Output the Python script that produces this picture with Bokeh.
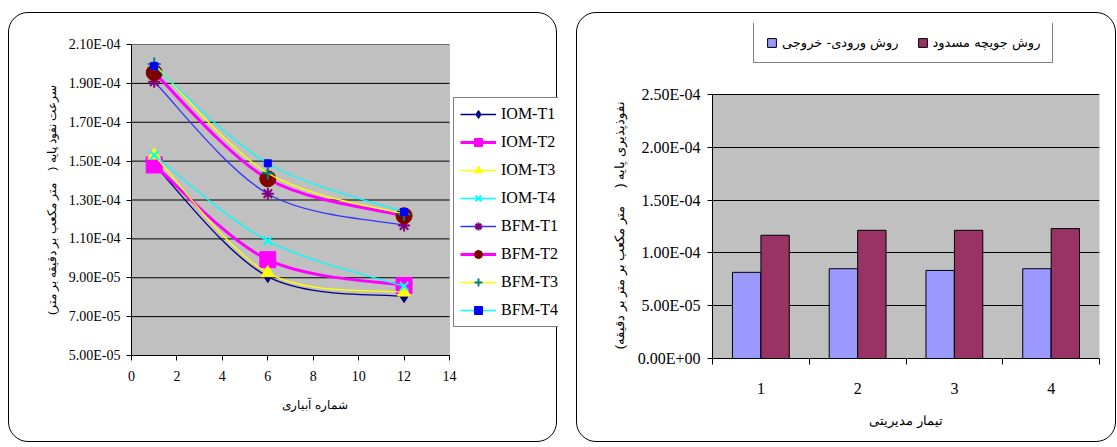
from bokeh.plotting import figure
from bokeh.layouts import row, column
from bokeh.models import (FixedTicker, CustomJSTickFormatter, Legend, LegendItem,
                          ColumnDataSource, BoxAnnotation, LinearAxis, Grid)
from bokeh.transform import dodge
from bokeh.embed import file_html
from bokeh.resources import INLINE

# ---------------- data: left chart ----------------
irrigation = [1, 6, 12]
iom_t1 = [1.480e-4, 9.06e-5, 8.03e-5]
iom_t2 = [1.480e-4, 9.93e-5, 8.60e-5]
iom_t3 = [1.530e-4, 9.25e-5, 8.25e-5]
iom_t4 = [1.530e-4, 1.090e-4, 8.56e-5]
bfm_t1 = [1.908e-4, 1.332e-4, 1.169e-4]
bfm_t2 = [1.955e-4, 1.409e-4, 1.219e-4]
bfm_t3 = [2.000e-4, 1.438e-4, 1.227e-4]
bfm_t4 = [1.990e-4, 1.489e-4, 1.238e-4]
left_x_ticks = [0, 2, 4, 6, 8, 10, 12, 14]
left_y_ticks = [5e-5, 7e-5, 9e-5, 1.1e-4, 1.3e-4, 1.5e-4, 1.7e-4, 1.9e-4, 2.1e-4]

# ---------------- data: right chart ----------------
treatments = [1, 2, 3, 4]
inlet_outlet = [8.16e-5, 8.50e-5, 8.34e-5, 8.50e-5]
blocked_furrow = [1.167e-4, 1.214e-4, 1.214e-4, 1.230e-4]
right_y_ticks = [0, 5e-5, 1e-4, 1.5e-4, 2e-4, 2.5e-4]

SERIF = "Liberation Serif"
ARABIC = "DejaVu Sans"
NB = "\u00a0"

fmt_code = """
const s = tick.toExponential(2);
const parts = s.split('e');
const e = parseInt(parts[1]);
const sign = e < 0 ? '-' : '+';
const d = Math.abs(e);
return parts[0] + 'E' + sign + (d < 10 ? '0' + d : '' + d);
"""

panel_css = {"border": "1.5px solid #000", "border-radius": "20px"}


def smooth(xs, ys):
    n = len(xs)
    out = dict(x0=[], y0=[], x1=[], y1=[], cx0=[], cy0=[], cx1=[], cy1=[])
    for i in range(n - 1):
        a = i - 1 if i > 0 else i
        b = i + 2 if i + 2 < n else i + 1
        out["x0"].append(xs[i]); out["y0"].append(ys[i])
        out["x1"].append(xs[i + 1]); out["y1"].append(ys[i + 1])
        out["cx0"].append(xs[i] + (xs[i + 1] - xs[a]) / 6.0)
        out["cy0"].append(ys[i] + (ys[i + 1] - ys[a]) / 6.0)
        out["cx1"].append(xs[i + 1] - (xs[b] - xs[i]) / 6.0)
        out["cy1"].append(ys[i + 1] - (ys[b] - ys[i]) / 6.0)
    return out


def make_axis(tick_font, tick_size, label_font, label_size, **kw):
    return LinearAxis(axis_line_color="black", major_tick_line_color="black",
                      major_tick_in=0, major_tick_out=5, minor_tick_line_color=None,
                      major_label_text_font=tick_font, major_label_text_font_size=tick_size,
                      major_label_text_font_style="normal", major_label_text_color="black",
                      major_label_text_line_height=1.0,
                      axis_label_text_font=label_font, axis_label_text_font_style="normal",
                      axis_label_text_font_size=label_size, axis_label_text_color="black",
                      axis_label_text_line_height=1.0,
                      **kw)


# ================= left figure =================
# plot area 318 px wide; the frame also holds the legend column (427 px in all)
x_end = left_x_ticks[-1] * 427.0 / 318.0
p1 = figure(width=549, height=430, x_range=(0, x_end),
            y_range=(left_y_ticks[0], left_y_ticks[-1]),
            x_axis_type=None, y_axis_type=None,
            output_backend="svg", toolbar_location=None, title=None,
            min_border_left=122, min_border_right=0, min_border_top=31, min_border_bottom=88,
            background_fill_color=None, border_fill_color=None,
            outline_line_color=None, styles=panel_css)

p1.add_layout(BoxAnnotation(left=left_x_ticks[0], right=left_x_ticks[-1],
                            bottom=left_y_ticks[0], top=left_y_ticks[-1],
                            fill_color="#C0C0C0", fill_alpha=1.0,
                            line_color="#808080", line_width=1, level="underlay"))
p1.segment(x0=[left_x_ticks[0]] * len(left_y_ticks), x1=[left_x_ticks[-1]] * len(left_y_ticks),
           y0=left_y_ticks, y1=left_y_ticks, line_color="black", line_width=1)

series = [
    ("IOM-T1", iom_t1, "#000080", 1.3, "diamond", "#000080", 12),
    ("IOM-T2", iom_t2, "#FF00FF", 3.0, "square", "#FF00FF", 16),
    ("IOM-T3", iom_t3, "#FFFF00", 1.3, "triangle", "#FFFF00", 13),
    ("IOM-T4", iom_t4, "#00FFFF", 1.3, "x", "#00FFFF", 12),
    ("BFM-T1", bfm_t1, "#3333FF", 1.3, "asterisk", "#800080", 12),
    ("BFM-T2", bfm_t2, "#FF00FF", 3.0, "circle", "#800000", 16),
    ("BFM-T3", bfm_t3, "#FFFF00", 1.3, "cross", "#008080", 13),
    ("BFM-T4", bfm_t4, "#00FFFF", 1.3, "square", "#0000FF", 7),
]

items = []
for label, ys, lc, lw, mk, mc, ms in series:
    seg = smooth(irrigation, ys)
    br = p1.bezier(x0="x0", y0="y0", x1="x1", y1="y1", cx0="cx0", cy0="cy0",
                   cx1="cx1", cy1="cy1", source=ColumnDataSource(seg),
                   line_color=lc, line_width=lw)
    lw_m = 2 if mk in ("x", "asterisk", "cross") else 1
    sr = p1.scatter(irrigation, ys, marker=mk, size=ms, fill_color=mc, line_color=mc,
                    line_width=lw_m)
    items.append(LegendItem(label=label, renderers=[br, sr]))

leg1 = Legend(items=items, location=(322, 28), orientation="vertical",
              glyph_width=36, glyph_height=20, label_height=20, spacing=8, padding=6,
              margin=0, label_standoff=5, label_text_font=SERIF, label_text_font_size="16px",
              label_text_color="black", border_line_color="black", border_line_width=1,
              background_fill_color="white", background_fill_alpha=1.0)
p1.add_layout(leg1, "center")

x1_axis = make_axis("Times", "14px", "sans-serif", "12px",
                    ticker=FixedTicker(ticks=left_x_ticks, minor_ticks=[]),
                    bounds=(left_x_ticks[0], left_x_ticks[-1]),
                    major_label_standoff=10,
                    axis_label="شماره آبیاری" + NB * 18, axis_label_standoff=14)
y1_axis = make_axis("Times", "14px", "sans-serif", "11.5px",
                    ticker=FixedTicker(ticks=left_y_ticks, minor_ticks=[]),
                    formatter=CustomJSTickFormatter(code=fmt_code),
                    major_label_standoff=6,
                    axis_label="سرعت نفوذ پایه (" + NB * 4 + "متر مکعب بر دقیقه بر متر)",
                    axis_label_standoff=8)
p1.add_layout(x1_axis, "below")
p1.add_layout(y1_axis, "left")

# ================= right figure =================
# plot area 264 px high; the frame also holds the legend above it (335 px in all)
y_end = right_y_ticks[-1] * 335.0 / 264.0
p2 = figure(width=540, height=430, x_range=(0.5, 4.5), y_range=(0, y_end),
            x_axis_type=None, y_axis_type=None,
            output_backend="svg", toolbar_location=None, title=None,
            min_border_left=135, min_border_right=18, min_border_top=10, min_border_bottom=85,
            background_fill_color=None, border_fill_color=None,
            outline_line_color=None, styles=panel_css)

p2.add_layout(BoxAnnotation(left=0.5, right=4.5, bottom=right_y_ticks[0], top=right_y_ticks[-1],
                            fill_color="#C0C0C0", fill_alpha=1.0,
                            line_color="#808080", line_width=1, level="underlay"))
p2.add_layout(Grid(dimension=1, ticker=FixedTicker(ticks=right_y_ticks[1:]),
                   grid_line_color="black", grid_line_width=1))

src = ColumnDataSource(dict(t=treatments, io=inlet_outlet, bf=blocked_furrow))
r_io = p2.vbar(x=dodge("t", -0.147), top="io", width=0.293, bottom=0, source=src,
               fill_color="#9999FF", line_color="black", line_width=1)
r_bf = p2.vbar(x=dodge("t", 0.147), top="bf", width=0.293, bottom=0, source=src,
               fill_color="#993366", line_color="black", line_width=1)

leg2 = Legend(items=[LegendItem(label="روش ورودی- خروجی", renderers=[r_io]),
                     LegendItem(label="روش جویچه مسدود", renderers=[r_bf])],
              location=(41, 295), orientation="horizontal",
              glyph_width=11, glyph_height=11, label_height=14, padding=12, spacing=18,
              margin=0, label_standoff=5, label_text_font=ARABIC, label_text_font_size="13px",
              label_text_color="black", border_line_color="black", border_line_width=1,
              background_fill_color="white", background_fill_alpha=1.0)
p2.add_layout(leg2, "center")

x2_axis = make_axis(SERIF, "16px", "sans-serif", "13px",
                    ticker=FixedTicker(ticks=treatments,
                                       minor_ticks=[t - 0.5 for t in treatments]
                                       + [treatments[-1] + 0.5]),
                    major_label_standoff=18,
                    axis_label="تیمار مدیریتی", axis_label_standoff=16)
x2_axis.major_tick_out = 0
x2_axis.minor_tick_line_color = "black"
x2_axis.minor_tick_in = 0
x2_axis.minor_tick_out = 6
y2_axis = make_axis(SERIF, "16px", "sans-serif", "13px",
                    ticker=FixedTicker(ticks=right_y_ticks, minor_ticks=[]),
                    formatter=CustomJSTickFormatter(code=fmt_code),
                    bounds=(right_y_ticks[0], right_y_ticks[-1]),
                    major_label_standoff=7,
                    axis_label="نفوذپذیری پایه (" + NB * 5 + "متر مکعب بر متر بر دقیقه)" + NB * 19,
                    axis_label_standoff=8)
p2.add_layout(x2_axis, "below")
p2.add_layout(y2_axis, "left")

layout = row(column(p1, margin=(12, 0, 0, 8)), column(p2, margin=(12, 0, 0, 0)), spacing=19)
open("out.html", "w").write(file_html(layout, INLINE))
